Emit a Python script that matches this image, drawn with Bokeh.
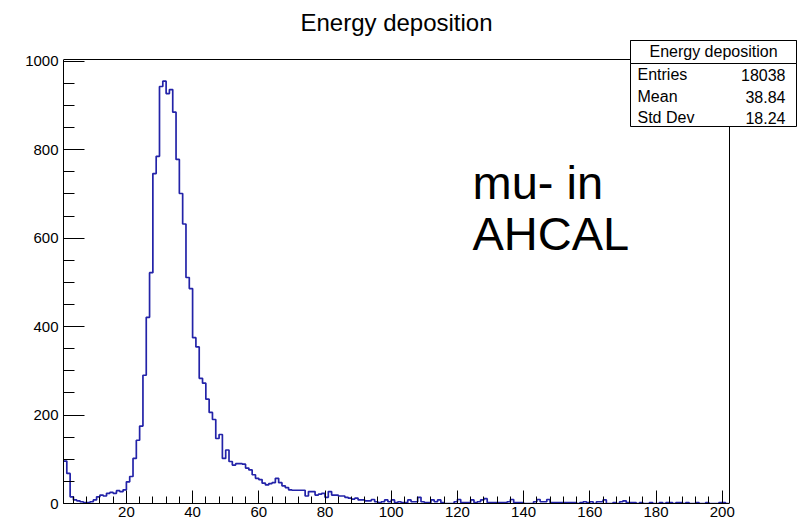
from bokeh.plotting import figure
from bokeh.models import Label, BoxAnnotation, SingleIntervalTicker, Range1d
from bokeh.embed import file_html
from bokeh.resources import INLINE

# ---------------- data ----------------
title_text = "Energy deposition"
bin_low = 1.0
bin_width = 1.0
# counts per bin, bins [1,2), [2,3), ...
counts = [
    96, 68, 15, 8, 6, 4, 2, 2, 4, 8,            # 1-10
    15, 19, 17, 23, 25, 23, 29, 27, 31, 49,     # 11-20
    61, 102, 143, 175, 290, 421, 522, 746, 785, 943,   # 21-30
    955, 927, 936, 885, 778, 701, 632, 511, 486, 375,  # 31-40
    354, 283, 272, 236, 206, 190, 147, 156, 102, 121,  # 41-50
    95, 87, 90, 90, 89, 80, 76, 65, 57, 54,     # 51-60
    46, 42, 45, 47, 57, 47, 40, 36, 31, 30,     # 61-70
    30, 30, 30, 17, 27, 27, 19, 21, 23, 14,     # 71-80
    27, 19, 19, 17, 17, 14, 12, 10, 12, 8,      # 81-90
    8, 6, 6, 9, 4, 2, 4, 8, 4, 8,               # 91-100
    2, 4, 2, 2, 8, 4, 4, 14, 4, 2,              # 101-110
    2, 8, 4, 8, 2, 0, 0, 0, 4, 9,               # 111-120
    2, 2, 2, 8, 2, 4, 8, 11, 2, 2,              # 121-130
    2, 2, 2, 2, 4, 9, 2, 2, 2, 0,               # 131-140
    0, 0, 4, 9, 4, 4, 9, 2, 2, 2,               # 141-150
    2, 2, 2, 2, 2, 0, 2, 4, 2, 4,               # 151-160
    0, 4, 4, 8, 0, 0, 2, 0, 4, 6,               # 161-170
    2, 2, 2, 0, 2, 0, 0, 2, 0, 0,               # 171-180
    2, 0, 2, 2, 0, 2, 2, 0, 2, 0,               # 181-190
    0, 2, 0, 0, 2, 0, 0, 0, 2, 2,               # 191-200
    0,                                           # 201
]
x_min, x_max = 1.0, 202.2       # histogram frame range
y_min, y_max = 0.0, 1004.0
x_major, x_minor_n = 20, 4
y_major, y_minor_n = 200, 4

stats_title = "Energy deposition"
stats_names = ["Entries", "Mean", "Std Dev"]
stats_values = ["18038", "38.84", "18.24"]
note_lines = ["mu- in", "AHCAL"]

FONT = "Liberation Sans"

# ---------------- layout ----------------
W, H = 800, 524
FL, FB = 63, 21             # frame left / bottom margins
hist_w, hist_h = 666, 444   # pixel size of the histogram box
frame_w, frame_h = W - FL, H - FB
# the bokeh frame spans the whole canvas right/top of the axes so that the
# stats box and title (which lie outside the ROOT frame) are not clipped
x_end = x_min + (x_max - x_min) * frame_w / hist_w
y_end = y_min + (y_max - y_min) * frame_h / hist_h

p = figure(width=W, height=H, title=None,
           x_range=Range1d(x_min, x_end), y_range=Range1d(y_min, y_end),
           output_backend="svg", toolbar_location=None,
           min_border_left=FL, min_border_right=0,
           min_border_top=0, min_border_bottom=FB)
p.background_fill_color = "white"
p.border_fill_color = "white"
p.outline_line_color = None
p.xgrid.visible = False
p.ygrid.visible = False

edges = [bin_low + i * bin_width for i in range(len(counts) + 1)]
p.step(edges, counts + [counts[-1]], mode="after",
       line_color="#2323a8", line_width=1.7)

# top and right edges of the histogram frame
p.segment(x0=[x_min, x_max], y0=[y_max, y_min], x1=[x_max, x_max], y1=[y_max, y_max],
          line_color="black", line_width=1)

xa = p.xaxis[0]
xa.bounds = (x_min, x_max)
xa.ticker = SingleIntervalTicker(interval=x_major, num_minor_ticks=x_minor_n + 1)
xa.major_tick_in = 13
xa.major_tick_out = 0
xa.minor_tick_in = 7
xa.minor_tick_out = 0
xa.major_label_standoff = 3
xa.major_label_text_font = FONT
xa.major_label_text_font_size = "15px"
xa.major_label_text_color = "black"

ya = p.yaxis[0]
ya.bounds = (y_min, y_max)
ya.ticker = SingleIntervalTicker(interval=y_major, num_minor_ticks=y_minor_n)
ya.major_tick_in = 21
ya.major_tick_out = 0
ya.minor_tick_in = 11
ya.minor_tick_out = 0
ya.major_label_standoff = 5
ya.major_label_text_font = FONT
ya.major_label_text_font_size = "15px"
ya.major_label_text_color = "black"

# title (screen units relative to the frame)
p.add_layout(Label(x=333, y=481, x_units="screen", y_units="screen",
                   text=title_text, text_align="center", text_baseline="middle",
                   text_font=FONT, text_font_size="24px", text_color="black"))

# annotation text
p.add_layout(Label(x=409, y=321, x_units="screen", y_units="screen",
                   text=note_lines[0], text_align="left", text_baseline="middle",
                   text_font=FONT, text_font_size="47px", text_color="black"))
p.add_layout(Label(x=409, y=270, x_units="screen", y_units="screen",
                   text=note_lines[1], text_align="left", text_baseline="middle",
                   text_font=FONT, text_font_size="47px", text_color="black"))

# stats box
su = dict(left_units="screen", right_units="screen", top_units="screen", bottom_units="screen")
p.add_layout(BoxAnnotation(left=567, right=733, top=463, bottom=377,
                           fill_color="white", fill_alpha=1.0,
                           line_color="black", line_width=1, line_alpha=1.0, **su))
p.add_layout(BoxAnnotation(left=567, right=733, top=463, bottom=440,
                           fill_color="white", fill_alpha=1.0,
                           line_color="black", line_width=1, line_alpha=1.0, **su))
p.add_layout(Label(x=650, y=452, x_units="screen", y_units="screen",
                   text=stats_title, text_align="center", text_baseline="middle",
                   text_font=FONT, text_font_size="16px", text_color="black"))
row_y = [429, 407, 386]
for name, val, yy in zip(stats_names, stats_values, row_y):
    p.add_layout(Label(x=574, y=yy, x_units="screen", y_units="screen",
                       text=name, text_align="left", text_baseline="middle",
                       text_font=FONT, text_font_size="16px", text_color="black"))
    p.add_layout(Label(x=722, y=yy, x_units="screen", y_units="screen",
                       text=val, text_align="right", text_baseline="middle",
                       text_font=FONT, text_font_size="16px", text_color="black"))

open("out.html", "w").write(file_html(p, INLINE))
